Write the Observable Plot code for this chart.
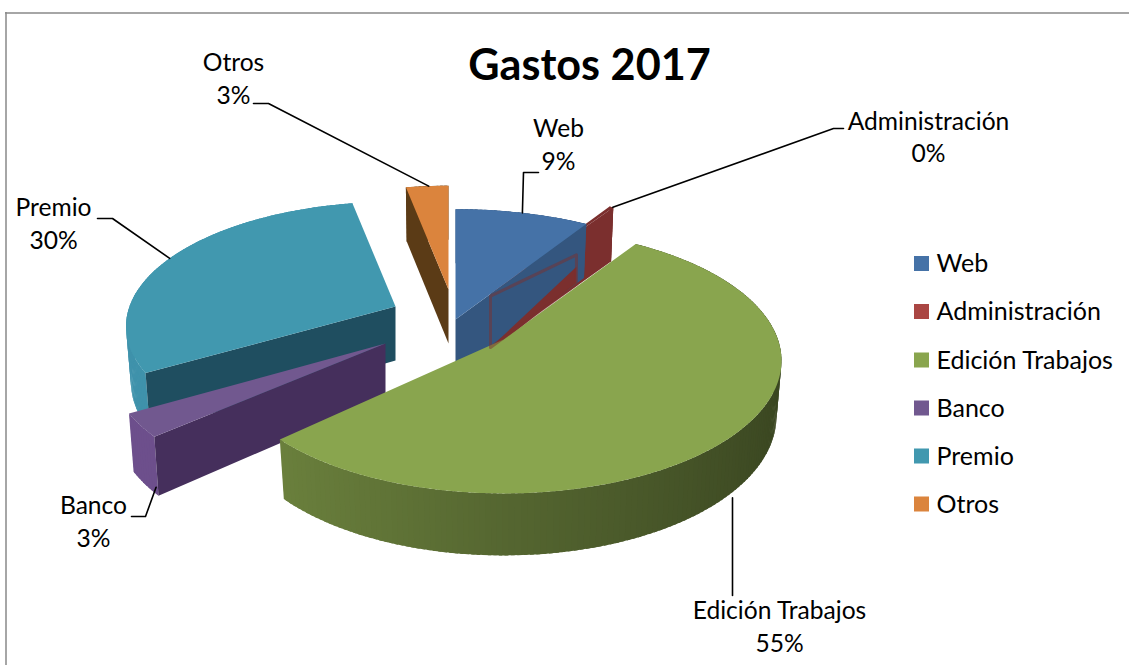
<!DOCTYPE html>
<html><head><meta charset="utf-8">
<script src="https://cdn.jsdelivr.net/npm/d3@7"></script>
<script src="https://cdn.jsdelivr.net/npm/@observablehq/plot@0.6"></script>
<style>html,body{margin:0;padding:0;background:#fff;overflow:hidden}svg{display:block}</style>
</head><body><div id="chart"></div>
<script>
const title = "Gastos 2017";
const categories = ["Web","Administración","Edición Trabajos","Banco","Premio","Otros"];
const values = [8.9,0.3,54.5,2.9,30.4,3.0];
const colors = ["#4572a7","#7b2f2e","#89a54e","#71588f","#4198af","#db843d"];
const legendColors = ["#4572a7","#aa4643","#89a54e","#71588f","#4198af","#db843d"];
const wallColors = ["#34567f","#7b2f2e",null,"#452f5c","#1f4e60","#5b3b16"];
const outerColors = ["#34567f","#7b2f2e",null,"#6d4f8c","#3f92ab","#5b3b16"];

// layout of the exploded 3D pie (pixels)
const apexX = [455,490,503,385,395,448], apexY = [319,293,339,343,306,289];
const scaleX = [1,.91,.98,.975,.95,.94], scaleY = [1,.91,1.01,1,.95,.94];
const R = 280, H = 128, K = .16, DEPTH = 54, WARP = 3.2*Math.PI/180;
const drawOrder = [5,1,0,4,3,2];
const labelX = [558,928,779,93,53,233], labelY = [142.5,135,624.5,519.5,221.5,76.5];
const elbows = [[[538,172],[523,172]],[[843,128],[833,128]],[[732,595]],[[131,516],[145,516]],[[97,218],[112,218]],[[253,103],[268,103]]];
const leaderAngles = [16,33,133,230,295,355], leaderLevel = [0,0,1,.88,0,0];
const legendY = [263.5,311.5,360,408,456,504];

const rad = d3.scaleLinear([0,100],[0,2*Math.PI]);
const cum = d3.cumsum(values);
const starts = categories.map((_,i)=> rad(i? cum[i-1]:0)), ends = categories.map((_,i)=> rad(cum[i]));

// the big slice's back-left corner sits a little closer to the front than its share suggests
function warp(i,t){
  const a=Math.PI, b=a+75*Math.PI/180;
  return i===2&&t>a&&t<b ? t-WARP*Math.sin(Math.PI*(t-a)/(b-a)) : t;
}
function project(i,t0,level=0){
  const t=warp(i,t0), s = 1/(1+K*Math.cos(t));
  const d = DEPTH + 8*Math.max(0,-Math.cos(t));
  return [apexX[i]+R*scaleX[i]*s*Math.sin(t)*(1-.018*level), apexY[i]-H*scaleY[i]*s*Math.cos(t)+level*d];
}
const apex = (i,level=0)=>[apexX[i],apexY[i]+level*DEPTH];
const polys = [];
let ghostLine = [];
function poly(id,fill,pts){ pts.forEach(p=>polys.push({id,fill,x:p[0],y:p[1]})); }
const arc = (a,b,n)=> d3.range(n+1).map(k=>a+(b-a)*k/n);

drawOrder.forEach(i=>{
  const a=starts[i], b=ends[i], n=Math.max(2,Math.ceil((b-a)/.02));
  // outer wall, in overlapping strips so that it can be shaded around the rim
  const ts=arc(a,b,n);
  for(let k=0;k<n;k++){
    const t0=ts[k],t1=Math.min(b,ts[k+1]+.012);
    let f=outerColors[i];
    if(!f){const m=.62-.2*Math.sin((ts[k]+ts[k+1])/2), c=d3.rgb(colors[i]); f=d3.rgb(c.r*m,c.g*m,c.b*m).formatHex();}
    poly(`o${i}-${k}`,f,[project(i,t0),project(i,t1),project(i,t1,1),project(i,t0,1)]);
  }
  // visible cut wall: the one that faces the viewer
  const cut = i===0||i===1 ? b : a;
  if(i!==2) poly(`w${i}`,wallColors[i],[apex(i),project(i,cut),project(i,cut,1),apex(i,1)]);
  // top
  poly(`t${i}`,colors[i],[apex(i),...ts.map(t=>project(i,t))]);
  if(i===0){
    // the red slice showing through the blue cut wall
    const P=(u,v)=>{const A=apex(1),B=project(1,ends[1]);return [A[0]+(B[0]-A[0])*u, A[1]+(B[1]-A[1])*u+v*DEPTH];};
    poly("ghost","#7b2f2e",[P(0,1),P(.7,.62),P(.7,.92),P(.1,1.05)]);
    ghostLine=[P(0,.05),P(.7,.4),P(.7,.95),P(0,1),P(0,.05)].map(p=>({x:p[0],y:p[1]}));
  }
});

const leaders=[];
categories.forEach((c,i)=>{
  const t=leaderAngles[i]*Math.PI/180, end=project(i,t,leaderLevel[i]);
  [...elbows[i],end].forEach(p=>leaders.push({id:c,x:i===2?elbows[2][0][0]:p[0],y:p[1]}));
});
const labels = categories.map((c,i)=>({text:`${c}\n${Math.round(values[i])}%`,x:labelX[i],y:labelY[i]}));
const legend = categories.map((c,i)=>({c,y:legendY[i],color:legendColors[i]}));

const FONT="Lato, Carlito, sans-serif";
const plot = Plot.plot({
  width:1129,height:665,margin:0,
  style:{background:"#fff",fontFamily:FONT},
  x:{domain:[0,1129],range:[0,1129],axis:null},
  y:{domain:[0,665],range:[0,665],axis:null},
  color:{type:"identity"},
  marks:[
    Plot.ruleY([12.5],{x1:5,x2:1129,stroke:"#888",strokeWidth:1.5}),
    Plot.ruleX([5.5],{y1:12,y2:665,stroke:"#888",strokeWidth:1.5}),
    Plot.line(polys,{x:"x",y:"y",z:"id",fill:"fill",stroke:"none",curve:"linear"}),
    Plot.line(ghostLine,{x:"x",y:"y",stroke:"#7b2f2e",strokeOpacity:.5,strokeWidth:3,curve:"linear"}),
    Plot.line(leaders,{x:"x",y:"y",z:"id",stroke:"#000",strokeWidth:1.6,curve:"linear"}),
    Plot.text(labels,{x:"x",y:"y",text:"text",fontSize:24.6,lineHeight:1.33,fill:"#000",fontFamily:FONT}),
    Plot.text([title],{x:[589],y:[65.5],text:d=>d,fontSize:43.2,fontWeight:"bold",fill:"#000",fontFamily:FONT}),
    Plot.rect(legend,{x1:()=>914,x2:()=>929,y1:d=>d.y-7.5,y2:d=>d.y+7.5,fill:"color"}),
    Plot.text(legend,{x:()=>936,y:"y",text:"c",textAnchor:"start",fontSize:25,fill:"#000",fontFamily:FONT})
  ]
});
document.getElementById("chart").append(plot);
</script></body></html>
